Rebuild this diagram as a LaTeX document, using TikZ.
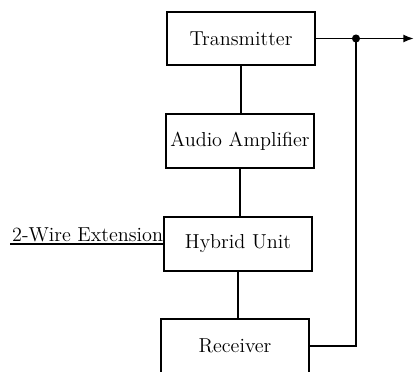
\documentclass[tikz,border=0pt]{standalone}
\usepackage{tikz}
\usetikzlibrary{arrows.meta,positioning}

\tikzset{
  blk/.style={draw, line width=1.1pt, minimum width=2.95cm, minimum height=1.07cm, inner sep=0pt,
    font=\fontsize{11.5}{13}\selectfont},
  wire/.style={line width=1.1pt}
}

\begin{document}
\begin{tikzpicture}[x=0.02cm,y=-0.02cm]
\useasboundingbox (0,0) rectangle (416,372);
% blocks
\node[blk] (tx)  at (241,38.5) {Transmitter};
\node[blk] (amp) at (240,141) {Audio Amplifier};
\node[blk] (hyb) at (238,244) {Hybrid Unit};
\node[blk] (rx)  at (235,346) {Receiver};
% chain
\draw[wire] (tx.south)  -- (tx.south |- amp.north);
\draw[wire] (amp.south) -- (amp.south |- hyb.north);
\draw[wire] (hyb.south) -- (hyb.south |- rx.north);
% output and loop back from receiver
\coordinate (dot) at (356,38.5);
\coordinate (out) at (414,38.5);
\draw[wire,-{Latex[length=6pt,width=4.5pt]}] (tx.east) -- (out);
\draw[wire] (rx.east) -| (dot);
\fill (dot) circle (2.3pt);
% extension line
\coordinate (ext) at (10,244);
\draw[wire] (ext) -- (hyb.west);
\node[anchor=south west, inner sep=1pt, font=\fontsize{11.5}{13}\selectfont] (extlbl) at (ext) {2-Wire Extension};
\end{tikzpicture}
\end{document}
